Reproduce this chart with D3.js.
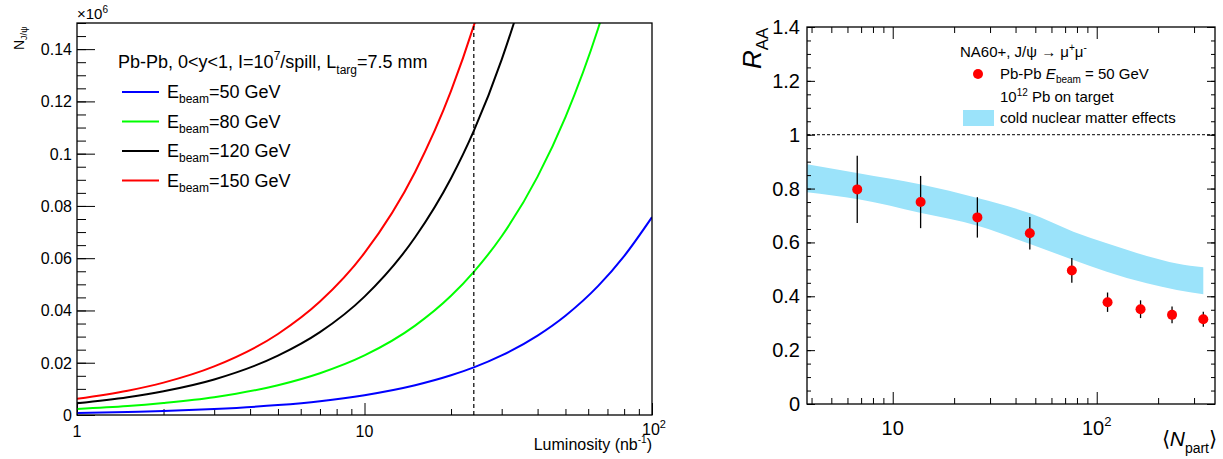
<!DOCTYPE html>
<html>
<head>
<meta charset="utf-8">
<script src="https://cdn.jsdelivr.net/npm/d3@7"></script>
<style>
body { margin: 0; background: #fff; }
text { font-family: "Liberation Sans", Arial, sans-serif; fill: #000; }
</style>
</head>
<body>
<div id="chart"></div>
<script>
// left panel: J/psi yield vs luminosity (values in units of 10^6)
const lumi = [1, 1.5, 2, 3, 5, 7, 10, 15, 20, 24, 30, 40, 50, 65, 80, 100]
const yield50 = [0.00076, 0.00114, 0.0015, 0.0023, 0.0038, 0.0053, 0.0076, 0.0114, 0.0152, 0.0182, 0.0228, 0.0304, 0.038, 0.0494, 0.0608, 0.0757]
const yield80 = [0.00228, 0.0034, 0.0046, 0.0068, 0.0114, 0.016, 0.0228, 0.0342, 0.0456, 0.0548, 0.0684, 0.0912, 0.114, 0.148, 0.182, 0.228]
const yield120 = [0.0045, 0.0068, 0.0091, 0.0136, 0.0227, 0.0317, 0.0453, 0.068, 0.0906, 0.1087, 0.136, 0.181, 0.226, 0.294, 0.362, 0.453]
const yield150 = [0.0062, 0.0093, 0.0124, 0.0186, 0.031, 0.0434, 0.062, 0.093, 0.124, 0.149, 0.186, 0.248, 0.31, 0.403, 0.496, 0.62]
const beamLabels = ["50", "80", "120", "150"]
const beamColors = ["#0000ff", "#00ff00", "#000000", "#ff0000"]
const lumiMarker = 24
const yTicksLeft = [0, 0.02, 0.04, 0.06, 0.08, 0.1, 0.12, 0.14]

// right panel: R_AA vs Npart
const npart = [6.7, 13.7, 26, 47, 75.5, 113, 164, 234, 333]
const raa = [0.797, 0.75, 0.693, 0.634, 0.496, 0.378, 0.352, 0.331, 0.315]
const raaErr = [0.125, 0.097, 0.075, 0.06, 0.046, 0.036, 0.033, 0.031, 0.028]
const bandN = [3.8, 6.8, 13.6, 26.3, 47.1, 76.8, 112, 176, 247, 333]
const bandHi = [0.890, 0.857, 0.816, 0.764, 0.708, 0.640, 0.597, 0.550, 0.522, 0.508]
const bandLo = [0.786, 0.760, 0.710, 0.661, 0.594, 0.535, 0.491, 0.448, 0.423, 0.408]
const yTicksRight = [0, 0.2, 0.4, 0.6, 0.8, 1, 1.2, 1.4]

const width = 1223
const height = 459
const band_color = '#9be3fa'

const svg = d3.select("#chart")
    .append("svg")
    .attr("width", width)
    .attr("height", height)

/* ---------- left panel ---------- */
const L = {x0: 77, x1: 652, y0: 23, y1: 415}
const xl = d3.scaleLog().domain([1, 100]).range([L.x0, L.x1])
const yl = d3.scaleLinear().domain([0, 0.15]).range([L.y1, L.y0])

svg.append("clipPath").attr("id", "clipL")
    .append("rect").attr("x", L.x0).attr("y", L.y0)
    .attr("width", L.x1 - L.x0).attr("height", L.y1 - L.y0)

const gl = svg.append("g")

// y ticks (pointing inward)
gl.append("g")
    .attr("transform", `translate(${L.x0},0)`)
    .call(d3.axisLeft(yl).tickValues(d3.range(0, 0.1501, 0.005)).tickSize(-9).tickFormat(""))
    .call(g => g.select(".domain").remove())
gl.append("g")
    .attr("transform", `translate(${L.x0},0)`)
    .call(d3.axisLeft(yl).tickValues(yTicksLeft).tickSize(-18).tickFormat(""))
    .call(g => g.select(".domain").remove())
gl.selectAll(".ylabL")
    .data(yTicksLeft)
    .enter()
    .append("text")
    .attr("class", "ylabL")
    .attr("x", 72)
    .attr("y", d => yl(d) + 6)
    .attr("text-anchor", "end")
    .attr("font-size", 16)
    .text(d => d3.format("")(+d.toFixed(2)))

// x ticks
const minorL = [2, 3, 4, 5, 6, 7, 8, 9, 20, 30, 40, 50, 60, 70, 80, 90]
gl.append("g")
    .attr("transform", `translate(0,${L.y1})`)
    .call(d3.axisBottom(xl).tickValues(minorL).tickSize(-6).tickFormat(""))
    .call(g => g.select(".domain").remove())
gl.append("g")
    .attr("transform", `translate(0,${L.y1})`)
    .call(d3.axisBottom(xl).tickValues([1, 10, 100]).tickSize(-12).tickFormat(""))
    .call(g => g.select(".domain").remove())

gl.append("text").attr("x", xl(1)).attr("y", 437).attr("text-anchor", "middle")
    .attr("font-size", 16).text("1")
gl.append("text").attr("x", xl(10)).attr("y", 437).attr("text-anchor", "middle")
    .attr("font-size", 16).text("10")
const t100 = gl.append("text").attr("x", xl(100) + 2).attr("y", 435).attr("text-anchor", "middle")
    .attr("font-size", 16)
t100.append("tspan").text("10")
t100.append("tspan").attr("font-size", 11).attr("dy", -7).text("2")

// curves
const lineL = d3.line().x((d, i) => xl(lumi[i])).y(d => yl(d)).curve(d3.curveMonotoneX)
const curvesL = [yield50, yield80, yield120, yield150]
gl.append("g").attr("clip-path", "url(#clipL)")
    .selectAll("path")
    .data(curvesL)
    .enter()
    .append("path")
    .attr("d", lineL)
    .attr("fill", "none")
    .attr("stroke", (d, i) => beamColors[i])
    .attr("stroke-width", 2)

// dashed line at nominal luminosity
gl.append("line")
    .attr("x1", xl(lumiMarker)).attr("x2", xl(lumiMarker))
    .attr("y1", L.y1).attr("y2", L.y0)
    .attr("stroke", "black").attr("stroke-width", 1.2)
    .attr("stroke-dasharray", "4,3")

// frame
gl.append("rect")
    .attr("x", L.x0).attr("y", L.y0)
    .attr("width", L.x1 - L.x0).attr("height", L.y1 - L.y0)
    .attr("fill", "none").attr("stroke", "black").attr("stroke-width", 1.3)

// axis titles
const ex = gl.append("text").attr("x", L.x0).attr("y", 19).attr("font-size", 15)
ex.append("tspan").text("\u00d710")
ex.append("tspan").attr("font-size", 10).attr("dy", -6).text("6")

const ytl = gl.append("text").attr("transform", "translate(24,50) rotate(-90)").attr("font-size", 14)
ytl.append("tspan").text("N")
ytl.append("tspan").attr("font-size", 9).attr("dy", 3).text("J/\u03c8")

const xtl = gl.append("text").attr("x", L.x1).attr("y", 450).attr("text-anchor", "end").attr("font-size", 16)
xtl.append("tspan").text("Luminosity (nb")
xtl.append("tspan").attr("font-size", 10).attr("dy", -7).text("-1")
xtl.append("tspan").attr("dy", 7).text(")")

// legend
const hdr = gl.append("text").attr("x", 118).attr("y", 68).attr("font-size", 18)
hdr.append("tspan").text("Pb-Pb, 0<y<1, I=10")
hdr.append("tspan").attr("font-size", 12).attr("dy", -8).text("7")
hdr.append("tspan").attr("dy", 8).text("/spill, L")
hdr.append("tspan").attr("font-size", 12).attr("dy", 6).text("targ")
hdr.append("tspan").attr("dy", -6).text("=7.5 mm")

const leg = gl.selectAll(".leg")
    .data(beamLabels)
    .enter()
    .append("g")
    .attr("class", "leg")
    .attr("transform", (d, i) => `translate(0,${92 + 29.5 * i})`)
leg.append("line")
    .attr("x1", 122).attr("x2", 159)
    .attr("stroke", (d, i) => beamColors[i]).attr("stroke-width", 2)
const legText = leg.append("text").attr("x", 167).attr("y", 6).attr("font-size", 18)
legText.append("tspan").text("E")
legText.append("tspan").attr("font-size", 12).attr("dy", 5).text("beam")
legText.append("tspan").attr("dy", -5).text(d => `=${d} GeV`)

/* ---------- right panel ---------- */
const R = {x0: 807, x1: 1215, y0: 27, y1: 404}
const xr = d3.scaleLog().domain([3.8, 380]).range([R.x0, R.x1])
const yr = d3.scaleLinear().domain([0, 1.4]).range([R.y1, R.y0])

svg.append("clipPath").attr("id", "clipR")
    .append("rect").attr("x", R.x0).attr("y", R.y0)
    .attr("width", R.x1 - R.x0).attr("height", R.y1 - R.y0)

const gr = svg.append("g")

// band
const area = d3.area()
    .x((d, i) => xr(bandN[i]))
    .y0((d, i) => yr(bandLo[i]))
    .y1(d => yr(d))
    .curve(d3.curveMonotoneX)
gr.append("path")
    .datum(bandHi)
    .attr("clip-path", "url(#clipR)")
    .attr("d", area)
    .attr("fill", band_color)

// dashed line at R_AA = 1
gr.append("line")
    .attr("x1", R.x0).attr("x2", R.x1)
    .attr("y1", yr(1)).attr("y2", yr(1))
    .attr("stroke", "black").attr("stroke-width", 1)
    .attr("stroke-dasharray", "3,2")

// y ticks both sides
const minorYR = d3.range(0, 1.401, 0.05)
;[[R.x0, d3.axisLeft], [R.x1, d3.axisRight]].forEach(([xp, ax]) => {
    gr.append("g").attr("transform", `translate(${xp},0)`)
        .call(ax(yr).tickValues(minorYR).tickSize(-4).tickFormat(""))
        .call(g => g.select(".domain").remove())
    gr.append("g").attr("transform", `translate(${xp},0)`)
        .call(ax(yr).tickValues(yTicksRight).tickSize(-8).tickFormat(""))
        .call(g => g.select(".domain").remove())
})
gr.selectAll(".ylab")
    .data(yTicksRight)
    .enter()
    .append("text")
    .attr("class", "ylab")
    .attr("x", 800)
    .attr("y", d => yr(d) + 7)
    .attr("text-anchor", "end")
    .attr("font-size", 20)
    .text(d => d3.format("")(d))

// x ticks top and bottom
const minorR = [4, 5, 6, 7, 8, 9, 20, 30, 40, 50, 60, 70, 80, 90, 200, 300]
;[[R.y1, d3.axisBottom], [R.y0, d3.axisTop]].forEach(([yp, ax]) => {
    gr.append("g").attr("transform", `translate(0,${yp})`)
        .call(ax(xr).tickValues(minorR).tickSize(-6).tickFormat(""))
        .call(g => g.select(".domain").remove())
    gr.append("g").attr("transform", `translate(0,${yp})`)
        .call(ax(xr).tickValues([10, 100]).tickSize(-12).tickFormat(""))
        .call(g => g.select(".domain").remove())
})
gr.append("text").attr("x", xr(10)).attr("y", 435).attr("text-anchor", "middle")
    .attr("font-size", 20).text("10")
const r100 = gr.append("text").attr("x", xr(100)).attr("y", 435).attr("text-anchor", "middle")
    .attr("font-size", 20)
r100.append("tspan").text("10")
r100.append("tspan").attr("font-size", 13).attr("dy", -9).text("2")

// data points with error bars
const pts = gr.selectAll(".pt")
    .data(raa)
    .enter()
    .append("g")
    .attr("class", "pt")
pts.append("line")
    .attr("x1", (d, i) => xr(npart[i])).attr("x2", (d, i) => xr(npart[i]))
    .attr("y1", (d, i) => yr(d + raaErr[i])).attr("y2", (d, i) => yr(d - raaErr[i]))
    .attr("stroke", "black").attr("stroke-width", 1.3)
pts.append("circle")
    .attr("cx", (d, i) => xr(npart[i]))
    .attr("cy", d => yr(d))
    .attr("r", 5)
    .attr("fill", "#ff0000")

// frame
gr.append("rect")
    .attr("x", R.x0).attr("y", R.y0)
    .attr("width", R.x1 - R.x0).attr("height", R.y1 - R.y0)
    .attr("fill", "none").attr("stroke", "black").attr("stroke-width", 1.3)

// axis titles
const ytr = gr.append("text").attr("transform", "translate(761,69) rotate(-90)").attr("font-size", 26)
ytr.append("tspan").attr("font-style", "italic").text("R")
ytr.append("tspan").attr("font-size", 17).attr("dy", 7).text("AA")

const xtr = gr.append("text").attr("x", R.x1 + 2).attr("y", 446).attr("text-anchor", "end").attr("font-size", 21)
xtr.append("tspan").text("\u27e8")
xtr.append("tspan").attr("font-style", "italic").text("N")
xtr.append("tspan").attr("font-size", 14).attr("dy", 7).text("part")
xtr.append("tspan").attr("dy", -7).text("\u27e9")

// legend
const lh = gr.append("text").attr("x", 960).attr("y", 57).attr("font-size", 15)
lh.append("tspan").text("NA60+, J/\u03c8 \u2192 \u03bc")
lh.append("tspan").attr("font-size", 10).attr("dy", -6).text("+")
lh.append("tspan").attr("dy", 6).text("\u03bc")
lh.append("tspan").attr("font-size", 10).attr("dy", -6).text("-")

gr.append("circle").attr("cx", 978).attr("cy", 74).attr("r", 5).attr("fill", "#ff0000")
const l1 = gr.append("text").attr("x", 1000).attr("y", 79).attr("font-size", 15)
l1.append("tspan").text("Pb-Pb ")
l1.append("tspan").attr("font-style", "italic").text("E")
l1.append("tspan").attr("font-size", 10).attr("dy", 4).text("beam")
l1.append("tspan").attr("dy", -4).text(" = 50 GeV")

const l2 = gr.append("text").attr("x", 1000).attr("y", 102).attr("font-size", 15)
l2.append("tspan").text("10")
l2.append("tspan").attr("font-size", 10).attr("dy", -6).text("12")
l2.append("tspan").attr("dy", 6).text(" Pb on target")

gr.append("rect").attr("x", 963).attr("y", 110).attr("width", 31).attr("height", 16).attr("fill", band_color)
gr.append("text").attr("x", 1000).attr("y", 123).attr("font-size", 15).text("cold nuclear matter effects")
</script>
</body>
</html>
